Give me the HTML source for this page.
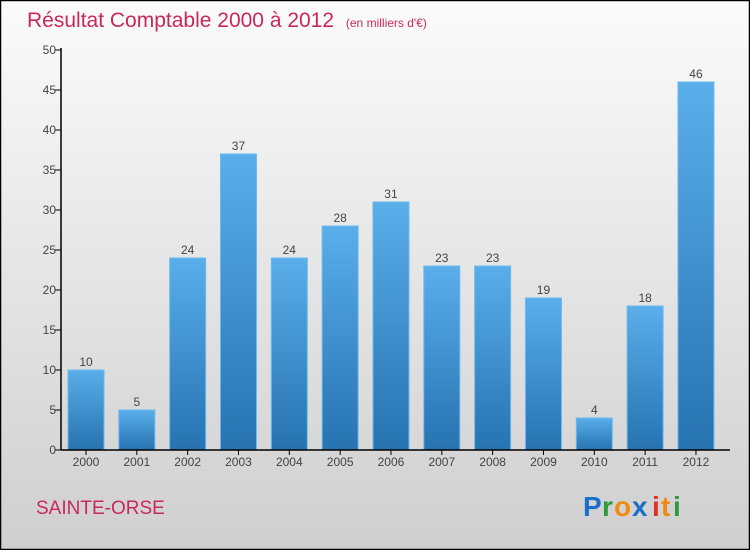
<!DOCTYPE html>
<html><head><meta charset="utf-8"><style>
html,body{margin:0;padding:0;}
body{width:750px;height:550px;overflow:hidden;font-family:"Liberation Sans",sans-serif;}
</style></head><body>
<svg id="chart" width="750" height="550" xmlns="http://www.w3.org/2000/svg">
<defs>
<linearGradient id="bg" x1="0" y1="0" x2="0" y2="1"><stop offset="0" stop-color="#fbfbfb"/><stop offset="1" stop-color="#cfcfcf"/></linearGradient>
<linearGradient id="bar" x1="0" y1="0" x2="0" y2="1"><stop offset="0" stop-color="#5aaeea"/><stop offset="1" stop-color="#2673b0"/></linearGradient>
</defs>
<rect x="0.5" y="0.5" width="749" height="549" fill="url(#bg)" stroke="#000" stroke-width="1.5"/>
<text x="27" y="27" font-size="21" fill="#c8285a">Résultat Comptable 2000 à 2012 <tspan font-size="12" dx="6">(en milliers d'€)</tspan></text>
<g id="yaxis"></g>
<g id="bars"></g>
<g id="xaxis"></g>
<text x="36" y="514" font-size="19" fill="#c8285a">SAINTE-ORSE</text>
<g font-size="28" font-family="'Liberation Sans',sans-serif" font-weight="bold">
<text x="583" y="516" fill="#1a6fc8">P</text><text x="602" y="516" fill="#2a9a3a">r</text><text x="614" y="516" fill="#f08a10">o</text><text x="632" y="516" fill="#1a6fc8">x</text><text x="652" y="516" fill="#e03020">i</text><text x="661" y="516" fill="#f08a10">t</text><text x="673" y="516" fill="#2a9a3a">i</text>
</g>
</svg>
<script>
const categories=["2000","2001","2002","2003","2004","2005","2006","2007","2008","2009","2010","2011","2012"];
const values=[10,5,24,37,24,28,31,23,23,19,4,18,46];
const yTicks=[0,5,10,15,20,25,30,35,40,45,50];
const NS="http://www.w3.org/2000/svg";
const x0=61,y0=450,yTop=50,yMax=50,step=50.83,bw=36;
const y=v=>y0-(v/yMax)*(y0-yTop);
const bx=i=>68+i*step;
function mk(t,a,p){const e=document.createElementNS(NS,t);for(const k in a)e.setAttribute(k,a[k]);p.appendChild(e);return e;}
const ya=document.getElementById('yaxis'),bg=document.getElementById('bars'),xa=document.getElementById('xaxis');
mk('line',{x1:x0,y1:yTop-2,x2:x0,y2:y0,stroke:'#000','stroke-width':1.5},ya);
mk('line',{x1:x0,y1:y0,x2:730,y2:y0,stroke:'#000','stroke-width':1.5},xa);
yTicks.forEach(v=>{
 const l=mk('line',{x1:x0-6,y1:y(v),x2:x0,y2:y(v),stroke:'#000'},ya);
 
 
 const t=mk('text',{x:x0-5,y:y(v)+4,'font-size':12,fill:'#444','text-anchor':'end'},ya);
 
 
 t.textContent=v;
});
values.forEach((v,i)=>{
 const r=mk('rect',{x:bx(i),y:y(v),width:bw,height:y0-y(v),fill:'url(#bar)',stroke:'#6cbaf0','stroke-width':1},bg);
 
 
 const t=mk('text',{x:bx(i)+bw/2,y:y(v)-4,'font-size':12,fill:'#444','text-anchor':'middle'},bg);
 
 
 t.textContent=v;
 const tk=mk('line',{x1:bx(i)+bw/2,y1:y0,x2:bx(i)+bw/2,y2:y0+5,stroke:'#000'},xa);
 
 
 const c=mk('text',{x:bx(i)+bw/2,y:y0+16,'font-size':12,fill:'#444','text-anchor':'middle'},xa);
 
 
 c.textContent=categories[i];
});
</script>
</body></html>
